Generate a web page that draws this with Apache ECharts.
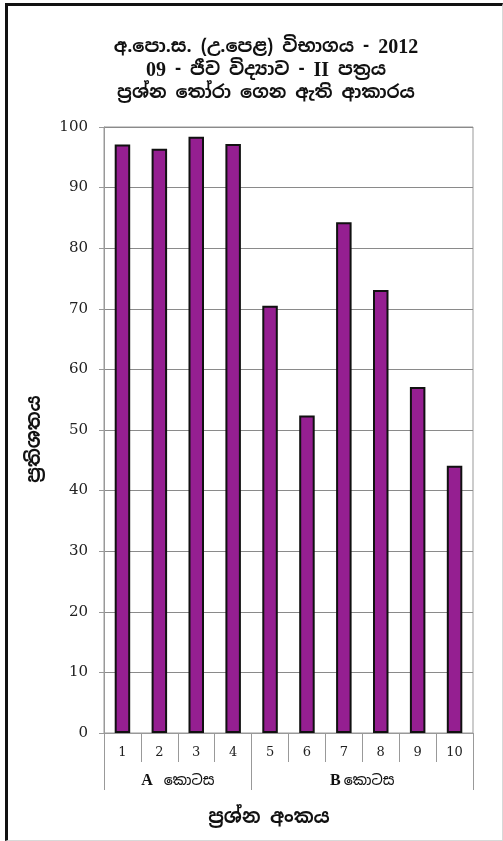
<!DOCTYPE html>
<html>
<head>
<meta charset="utf-8">
<script src="https://cdn.jsdelivr.net/npm/echarts@6/dist/echarts.min.js"></script>
<style>
  html, body { margin: 0; padding: 0; background: #fff; }
  #chart { position: absolute; left: 0; top: 0; width: 503px; height: 841px; }
  #frame {
    position: absolute; left: 5px; top: 3px; width: 498px; height: 838px;
    box-sizing: border-box; pointer-events: none; z-index: 5;
    border-left: 3px solid #111; border-top: 3px solid #111;
    border-right: 1px solid #d8d8d8; border-bottom: 1px solid #d8d8d8;
  }
</style>
</head>
<body>
<div id="chart"></div>
<div id="frame"></div>
<script>
// Question numbers and the percentage of candidates who chose each one
const questions = ['1', '2', '3', '4', '5', '6', '7', '8', '9', '10'];
const percentages = [97.1, 96.4, 98.4, 97.2, 70.5, 52.4, 84.3, 73.1, 57.1, 44.1];

// Paper sections: letter and word, and section boundaries on a 0..10 question scale
const sectionLetters = ['A', 'B'];
const sectionWord = 'කොටස';
const sectionBounds = [0, 4, 10];

const yTicks = { min: 0, max: 100, interval: 10 };

const sinhala = '"Noto Sans Sinhala", "Iskoola Pota", "Noto Sans", sans-serif';
const serif = '"DejaVu Serif", "Liberation Serif", serif';
const timesBold = '"Liberation Serif", "DejaVu Serif", serif';

const sectionCentres = sectionBounds.slice(0, -1).map((b, i) => (b + sectionBounds[i + 1]) / 2);

const chart = echarts.init(document.getElementById('chart'), null, { renderer: 'canvas' });
chart.setOption({
  backgroundColor: 'transparent',
  animation: false,
  title: [
    {
      text: 'අ.පො.ස. (උ.පෙළ) විභාගය - {n|2012}\n{n|09} - ජීව විද්‍යාව - {n|II} පත්‍රය\nප්‍රශ්න තෝරා ගෙන ඇති ආකාරය',
      left: 261, top: 31, textAlign: 'center',
      textStyle: {
        fontFamily: sinhala, fontWeight: 'bold', fontSize: 18, lineHeight: 23, color: '#111',
        rich: { n: { fontFamily: timesBold, fontWeight: 'bold', fontSize: 20, color: '#111', lineHeight: 23 } }
      }
    },
    {
      text: 'ප්‍රශ්න අංකය',
      left: 264, top: 803, textAlign: 'center',
      textStyle: { fontFamily: sinhala, fontWeight: 'bold', fontSize: 19, color: '#111' }
    }
  ],
  grid: {
    left: 104, right: 30, top: 127, bottom: 108,
    show: true, borderColor: '#999', borderWidth: 1, backgroundColor: 'transparent'
  },
  xAxis: [
    {
      type: 'category', data: questions, position: 'bottom',
      axisLine: { lineStyle: { color: '#999', width: 1 } },
      axisTick: { show: true, alignWithLabel: false, length: 29, lineStyle: { color: '#999' } },
      axisLabel: { fontFamily: serif, fontSize: 13, color: '#222', margin: 13 }
    },
    {
      type: 'value', min: 0, max: 10, position: 'bottom',
      axisLine: { show: false },
      splitLine: { show: false },
      axisTick: { show: true, customValues: sectionBounds, length: 57, lineStyle: { color: '#999' } },
      axisLabel: {
        customValues: sectionCentres, margin: 40, color: '#111',
        fontFamily: sinhala, fontSize: 14, fontWeight: 500,
        formatter: v => {
          const i = sectionCentres.indexOf(v);
          return '{' + (i === 0 ? 'a' : 'b') + '|' + sectionLetters[i] + '}' + sectionWord;
        },
        rich: {
          a: { fontFamily: timesBold, fontWeight: 'bold', fontSize: 16, color: '#111', padding: [0, 11, 0, 0] },
          b: { fontFamily: timesBold, fontWeight: 'bold', fontSize: 16, color: '#111', padding: [0, 3, 0, 0] }
        }
      }
    }
  ],
  yAxis: {
    type: 'value', min: yTicks.min, max: yTicks.max, interval: yTicks.interval,
    name: 'ප්‍රතිශතය', nameLocation: 'middle', nameGap: 60, nameRotate: 90,
    nameTextStyle: { fontFamily: sinhala, fontWeight: 'bold', fontSize: 19, color: '#111', padding: [0, 18, 0, 0] },
    axisLine: { show: true, lineStyle: { color: '#999' } },
    axisTick: { show: true, length: 5, lineStyle: { color: '#999' } },
    axisLabel: { fontFamily: serif, fontSize: 15, color: '#222', margin: 16 },
    splitLine: { lineStyle: { color: '#8a8a8a', width: 1 } }
  },
  series: [{
    type: 'bar', xAxisIndex: 0, data: percentages, barWidth: '42%',
    itemStyle: { color: '#951f91', borderColor: '#111', borderWidth: 2 }
  }]
});
</script>
</body>
</html>
